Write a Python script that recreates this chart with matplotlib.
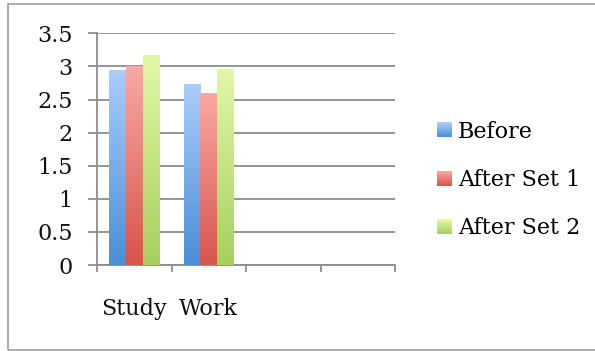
import numpy as np
import matplotlib
matplotlib.use("Agg")
import matplotlib.pyplot as plt
from matplotlib.colors import LinearSegmentedColormap
from matplotlib.patches import Rectangle
from matplotlib.legend_handler import HandlerBase

plt.rcParams["font.family"] = ["DejaVu Serif"]

categories = ["Study", "Work", "", ""]
series_names = ["Before", "After Set 1", "After Set 2"]
before = [2.95, 2.73]
after_set1 = [3.01, 2.60]
after_set2 = [3.17, 2.96]
y_ticks = [0, 0.5, 1, 1.5, 2, 2.5, 3, 3.5]
y_tick_labels = ["0", "0.5", "1", "1.5", "2", "2.5", "3", "3.5"]

# (top colour, bottom colour) of each series' vertical gradient
gradients = [
    ("#aacdfa", "#4a8ed8"),
    ("#faa9a6", "#d8544c"),
    ("#e2f8a8", "#a7cf5e"),
]

grid_grey = "#8c8c8c"
text_size = 16

fig = plt.figure(figsize=(5.95, 3.51), dpi=100)
ax = fig.add_axes([97 / 595, 1 - 265 / 351, 298 / 595, (265 - 33.3) / 351])

n_cat = len(categories)
x = np.arange(n_cat)
bar_w = 0.222
offsets = [-bar_w, 0.0, bar_w]
series = [before, after_set1, after_set2]

ramp = np.linspace(0, 1, 256).reshape(-1, 1)
for vals, off, (top, bottom) in zip(series, offsets, gradients):
    cmap = LinearSegmentedColormap.from_list("g", [bottom, top])
    bars = ax.bar(x[:len(vals)] + off, vals, width=bar_w, facecolor="none",
                  edgecolor="none", zorder=3)
    for rect in bars:
        x0, w, h = rect.get_x(), rect.get_width(), rect.get_height()
        im = ax.imshow(ramp, cmap=cmap, origin="lower", aspect="auto",
                       extent=(x0, x0 + w, 0, h), zorder=3,
                       interpolation="bilinear")
        im.set_clip_path(rect)

ax.set_xlim(-0.5, n_cat - 0.5)
ax.set_ylim(0, 3.5)

# horizontal gridlines behind the bars
ax.set_yticks(y_ticks)
ax.set_yticklabels(y_tick_labels)
ax.yaxis.grid(True, color=grid_grey, linewidth=1.3, zorder=0)
ax.set_axisbelow(True)

# category boundaries carry the tick marks, names sit at the centres
ax.set_xticks(np.arange(n_cat + 1) - 0.5)
ax.set_xticklabels([])
ax.set_xticks(x, minor=True)
ax.set_xticklabels(categories, minor=True)

for s in ("top", "right"):
    ax.spines[s].set_visible(False)
for s in ("left", "bottom"):
    ax.spines[s].set_color(grid_grey)
    ax.spines[s].set_linewidth(1.3)

ax.tick_params(axis="y", which="major", length=6.5, width=1.3,
               color=grid_grey, pad=11, labelsize=text_size,
               labelcolor="#111111")
ax.tick_params(axis="x", which="major", length=5, width=1.3,
               color=grid_grey, direction="out")
ax.tick_params(axis="x", which="minor", length=0, pad=24,
               labelsize=text_size, labelcolor="#111111")


class GradientSquare(HandlerBase):
    def __init__(self, top, bottom):
        super().__init__()
        self.cmap = LinearSegmentedColormap.from_list("h", [bottom, top])

    def create_artists(self, legend, orig_handle, xdescent, ydescent,
                       width, height, fontsize, trans):
        side = min(width, height)
        y0 = -ydescent + (height - side) / 2
        n = 20
        arts = []
        for i in range(n):
            arts.append(Rectangle((-xdescent, y0 + side * i / n), side,
                                  side / n + 0.05,
                                  facecolor=self.cmap(i / (n - 1)),
                                  edgecolor="none", transform=trans))
        return arts


handles = [Rectangle((0, 0), 1, 1) for _ in series_names]
handler_map = {h: GradientSquare(t, b) for h, (t, b) in zip(handles, gradients)}
fig.legend(handles, series_names, handler_map=handler_map,
           loc="center left", bbox_to_anchor=(421 / 595, 1 - 180 / 351),
           frameon=False, fontsize=text_size, handlelength=0.68,
           handleheight=0.68, handletextpad=0.27, labelspacing=1.19,
           borderpad=0.2)

# outer chart border (open on the right)
fig.add_artist(Rectangle((8 / 595, 1 / 351), 1.0, (350 - 4) / 351,
                         transform=fig.transFigure, facecolor="none",
                         edgecolor="#9e9e9e", linewidth=1.2))

fig.savefig("out.png", dpi=100)
